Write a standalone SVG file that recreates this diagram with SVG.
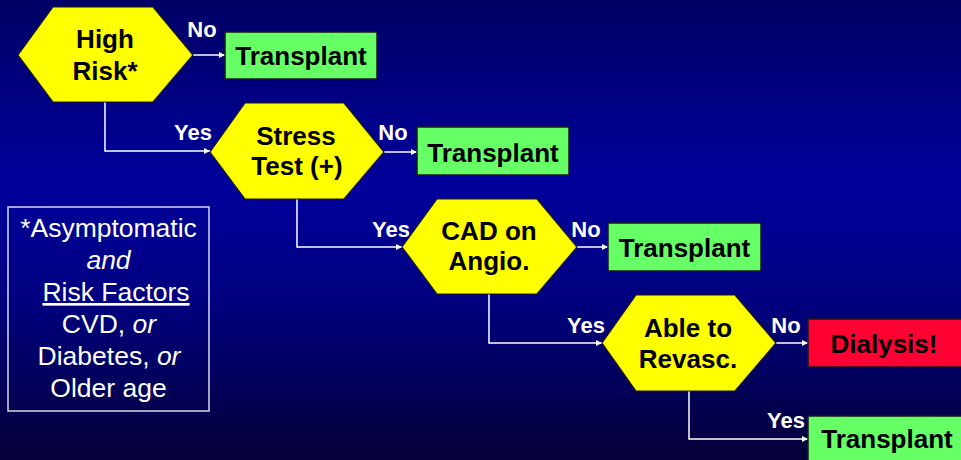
<svg xmlns="http://www.w3.org/2000/svg" width="961" height="460" viewBox="0 0 961 460">
  <defs>
    <linearGradient id="bg" x1="0" y1="0" x2="0" y2="1">
      <stop offset="0" stop-color="#000066"/>
      <stop offset="0.4" stop-color="#00009c"/>
      <stop offset="0.65" stop-color="#000080"/>
      <stop offset="1" stop-color="#050038"/>
    </linearGradient>
    <marker id="arrow" viewBox="0 0 10 10" refX="10" refY="5" markerWidth="6" markerHeight="6" markerUnits="userSpaceOnUse" orient="auto">
      <path d="M0,0 L10,5 L0,10 z" fill="#ffffff"/>
    </marker>
    <style>
      .hex { fill: #ffff00; stroke: #1a1a1a; stroke-width: 1.2; }
      .go { fill: #66ff66; stroke: #1a1a1a; stroke-width: 1.5; }
      .stop { fill: #ff0033; stroke: #1a1a1a; stroke-width: 1.5; }
      .lbl { font-family: "Liberation Sans", Arial, sans-serif; font-weight: bold; font-size: 26px; fill: #000000; text-anchor: middle; }
      .ans { font-family: "Liberation Sans", Arial, sans-serif; font-weight: bold; font-size: 22px; fill: #ffffff; text-anchor: middle; }
      .note { font-family: "Liberation Sans", Arial, sans-serif; font-size: 26.5px; fill: #ffffff; text-anchor: middle; }
      .wire { fill: none; stroke: #ffffff; stroke-width: 1.5; marker-end: url(#arrow); }
    </style>
  </defs>

  <rect x="0" y="0" width="961" height="460" fill="url(#bg)"/>

  <!-- connectors -->
  <g id="connectors">
    <path class="wire" d="M193,55 H225"/>
    <path class="wire" d="M105,102 V151 H210"/>
    <path class="wire" d="M384,152 H417"/>
    <path class="wire" d="M297,199 V247 H402"/>
    <path class="wire" d="M577,247 H608"/>
    <path class="wire" d="M489,294 V343 H602"/>
    <path class="wire" d="M776,343 H808"/>
    <path class="wire" d="M689,391 V439 H808"/>
    <text class="ans" x="202" y="37">No</text>
    <text class="ans" x="193" y="140">Yes</text>
    <text class="ans" x="393" y="140">No</text>
    <text class="ans" x="391" y="237">Yes</text>
    <text class="ans" x="586" y="237">No</text>
    <text class="ans" x="586" y="333">Yes</text>
    <text class="ans" x="786" y="333">No</text>
    <text class="ans" x="786" y="428">Yes</text>
  </g>

  <!-- decision: high risk -->
  <g id="high-risk">
    <polygon class="hex" points="18,55 53,7 153,7 193,55 153,102 53,102"/>
    <text class="lbl" x="105" y="48">High</text>
    <text class="lbl" x="105" y="80">Risk*</text>
  </g>

  <g id="transplant-1">
    <rect class="go" x="225" y="32" width="152" height="47"/>
    <text class="lbl" x="301" y="65">Transplant</text>
  </g>

  <!-- decision: stress test -->
  <g id="stress-test">
    <polygon class="hex" points="210,152 245,103 344,103 384,152 344,199 245,199"/>
    <text class="lbl" x="296" y="145">Stress</text>
    <text class="lbl" x="297" y="175">Test (+)</text>
  </g>

  <g id="transplant-2">
    <rect class="go" x="417" y="127" width="152" height="48"/>
    <text class="lbl" x="493" y="162">Transplant</text>
  </g>

  <!-- decision: CAD on angiography -->
  <g id="cad-angio">
    <polygon class="hex" points="402,247 437,199 537,199 577,247 537,294 437,294"/>
    <text class="lbl" x="489" y="240">CAD on</text>
    <text class="lbl" x="489" y="270">Angio.</text>
  </g>

  <g id="transplant-3">
    <rect class="go" x="608" y="223" width="153" height="48"/>
    <text class="lbl" x="684.5" y="257">Transplant</text>
  </g>

  <!-- decision: revascularisation -->
  <g id="revasc">
    <polygon class="hex" points="602,343 636,295 735,295 776,343 735,391 636,391"/>
    <text class="lbl" x="688" y="337">Able to</text>
    <text class="lbl" x="688" y="368">Revasc.</text>
  </g>

  <g id="dialysis">
    <rect class="stop" x="808" y="319" width="158" height="48"/>
    <text class="lbl" x="884" y="353">Dialysis!</text>
  </g>

  <g id="transplant-4">
    <rect class="go" x="808" y="416" width="158" height="50"/>
    <text class="lbl" x="887" y="448">Transplant</text>
  </g>

  <!-- footnote for the high-risk criteria -->
  <g id="risk-note">
    <rect x="8" y="207" width="201" height="204" fill="none" stroke="#d8d8e8" stroke-width="1.5"/>
    <text class="note" x="108.5" y="237">*Asymptomatic</text>
    <text class="note" x="108.5" y="269" font-style="italic">and</text>
    <text class="note" x="116" y="301" text-decoration="underline">Risk Factors</text>
    <text class="note" x="109" y="333">CVD, <tspan font-style="italic">or</tspan></text>
    <text class="note" x="109" y="365">Diabetes, <tspan font-style="italic">or</tspan></text>
    <text class="note" x="108.5" y="397">Older age</text>
  </g>
</svg>
